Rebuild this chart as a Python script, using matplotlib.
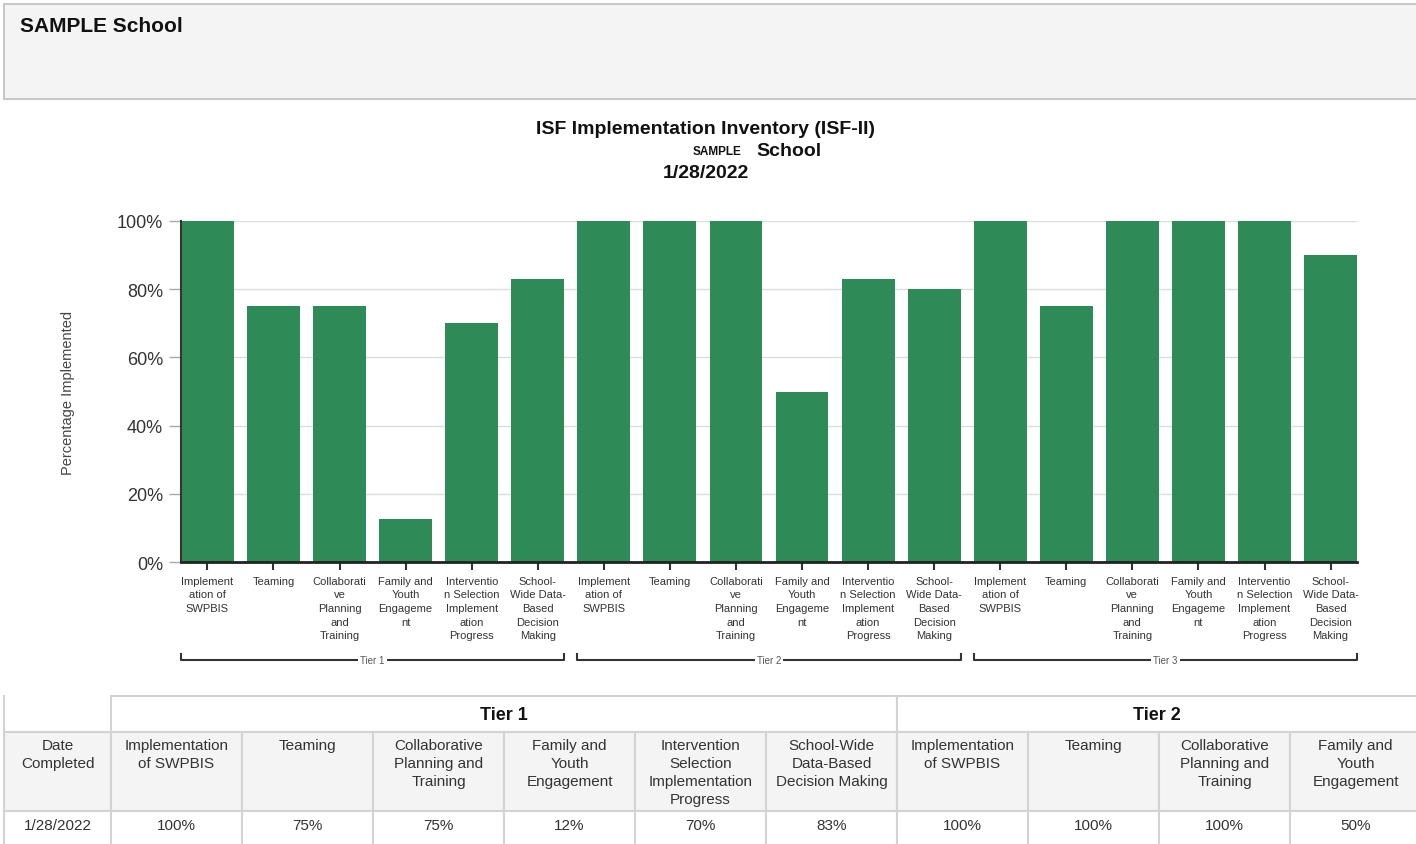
"""ISF Implementation Inventory report page: bar chart plus summary table."""

import matplotlib.pyplot as plt
from matplotlib.patches import Rectangle
from matplotlib.ticker import PercentFormatter
from matplotlib.transforms import blended_transform_factory

plt.rcParams["font.family"] = ["Liberation Sans", "DejaVu Sans"]

W, H = 1416, 845
GREEN = "#2E8B57"
INK = "#333333"
BORDER = "#d3d3d3"
PANEL = "#f4f4f4"

SCHOOL_PREFIX = "SAMPLE"
SCHOOL_NAME = "School"
TITLE = "ISF Implementation Inventory (ISF-II)"
DATE = "1/28/2022"

TIERS = ["Tier 1", "Tier 2", "Tier 3"]
CHART_LABELS = [
    "Implement\nation of\nSWPBIS",
    "Teaming",
    "Collaborati\nve\nPlanning\nand\nTraining",
    "Family and\nYouth\nEngageme\nnt",
    "Interventio\nn Selection\nImplement\nation\nProgress",
    "School-\nWide Data-\nBased\nDecision\nMaking",
]
TABLE_LABELS = [
    "Implementation\nof SWPBIS",
    "Teaming",
    "Collaborative\nPlanning and\nTraining",
    "Family and\nYouth\nEngagement",
    "Intervention\nSelection\nImplementation\nProgress",
    "School-Wide\nData-Based\nDecision Making",
]
TIER1_VALUES = [100, 75, 75, 12.5, 70, 83]
TIER2_VALUES = [100, 100, 100, 50, 83, 80]
TIER3_VALUES = [100, 75, 100, 100, 100, 90]


def main():
    fig = plt.figure(figsize=(W / 100, H / 100), dpi=100)

    # page layer in pixel coordinates
    bg = fig.add_axes([0, 0, 1, 1], zorder=0)
    bg.set_xlim(0, W)
    bg.set_ylim(H, 0)
    bg.axis("off")

    bg.add_patch(Rectangle((4, 5), W, 95, facecolor=PANEL, edgecolor="#c8c8c8", linewidth=1.5))
    bg.text(20, 27, f"{SCHOOL_PREFIX} {SCHOOL_NAME}", fontsize=15, fontweight="bold",
            color="#111111", va="center")

    bg.text(706, 129, TITLE, fontsize=14, fontweight="bold", ha="center", va="center", color="#111111")
    bg.text(741, 152, SCHOOL_PREFIX, fontsize=8.5, fontweight="bold", ha="right", va="center", color="#111111")
    bg.text(756, 151, SCHOOL_NAME, fontsize=14, fontweight="bold", ha="left", va="center", color="#111111")
    bg.text(706, 174, DATE, fontsize=14, fontweight="bold", ha="center", va="center", color="#111111")

    # chart
    values = TIER1_VALUES + TIER2_VALUES + TIER3_VALUES
    labels = CHART_LABELS * len(TIERS)
    x = list(range(len(values)))
    ax = fig.add_axes([181 / W, (H - 563) / H, 1176 / W, 341 / H], zorder=1)
    ax.bar(x, values, width=0.8, color=GREEN, zorder=2)
    ax.set_xlim(-0.4, len(values) - 0.6)
    ax.set_ylim(0, 100)
    ax.set_yticks(range(0, 101, 20))
    ax.yaxis.set_major_formatter(PercentFormatter(decimals=0))
    ax.set_xticks(x)
    ax.set_xticklabels(labels, fontsize=8, color=INK, linespacing=1.45, va="top")
    ax.grid(axis="y", color="#dcdcdc", linewidth=1)
    ax.set_axisbelow(True)
    for side in ("top", "right"):
        ax.spines[side].set_visible(False)
    ax.spines["left"].set_color(INK)
    ax.spines["left"].set_linewidth(1.5)
    ax.spines["bottom"].set_color("#222222")
    ax.spines["bottom"].set_linewidth(2)
    ax.tick_params(axis="x", length=6, width=1.5, color=INK, pad=4)
    ax.tick_params(axis="y", length=9, width=1, color="#aaaaaa", labelsize=13, labelcolor=INK, pad=4)
    ax.set_ylabel("Percentage Implemented", fontsize=10.5, color="#444444")
    ax.yaxis.set_label_coords(-0.090, 0.5)

    # tier brackets under the category labels
    trans = blended_transform_factory(ax.transData, ax.transAxes)
    n = len(CHART_LABELS)
    y_line, y_tick = -0.2885, -0.270
    for i, tier in enumerate(TIERS):
        x0, x1 = i * n - 0.4, i * n + n - 0.6
        ax.plot([x0, x0, x1, x1], [y_tick, y_line, y_line, y_tick], transform=trans,
                clip_on=False, color=INK, linewidth=1.5)
        ax.text((x0 + x1) / 2, y_line, tier, transform=trans, ha="center", va="center",
                fontsize=7, color="#555555",
                bbox=dict(facecolor="white", edgecolor="none", pad=1.5))

    # summary table
    col_left, first_w, col_w = 4, 107, 131
    rows = [697, 733, 812, 860]
    data_cols = [col_left + first_w + k * col_w for k in range(11)]
    table_labels = TABLE_LABELS + TABLE_LABELS
    table_values = TIER1_VALUES + TIER2_VALUES
    n_cols = 10

    bg.plot([col_left, col_left], [rows[0], rows[3]], color=BORDER, linewidth=1.5)
    for i, tier in enumerate(TIERS[:2]):
        left = data_cols[i * n]
        right = left + n * col_w
        bg.add_patch(Rectangle((left, rows[0]), right - left, rows[1] - rows[0],
                               facecolor="white", edgecolor=BORDER, linewidth=1.5))
        bg.text((left + min(right, W)) / 2, (rows[0] + rows[1]) / 2 + 1, tier, fontsize=13,
                fontweight="bold", ha="center", va="center", color="#111111")

    # header and value rows
    edges = [col_left] + data_cols[: n_cols + 1]
    heads = ["Date\nCompleted"] + table_labels[:n_cols]
    cells = [DATE] + [f"{round(v)}%" for v in table_values[:n_cols]]
    for k in range(n_cols + 1):
        left, right = edges[k], edges[k + 1]
        bg.add_patch(Rectangle((left, rows[1]), right - left, rows[2] - rows[1],
                               facecolor=PANEL, edgecolor=BORDER, linewidth=1.5))
        bg.add_patch(Rectangle((left, rows[2]), right - left, rows[3] - rows[2],
                               facecolor="white", edgecolor=BORDER, linewidth=1.5))
        bg.text((left + right) / 2, rows[1] + 6, heads[k], fontsize=11, ha="center", va="top",
                color=INK, linespacing=1.35)
        bg.text((left + right) / 2, 826, cells[k], fontsize=11, ha="center", va="center", color=INK)

    fig.savefig("out.png", dpi=100)
    plt.close(fig)


if __name__ == "__main__":
    main()
